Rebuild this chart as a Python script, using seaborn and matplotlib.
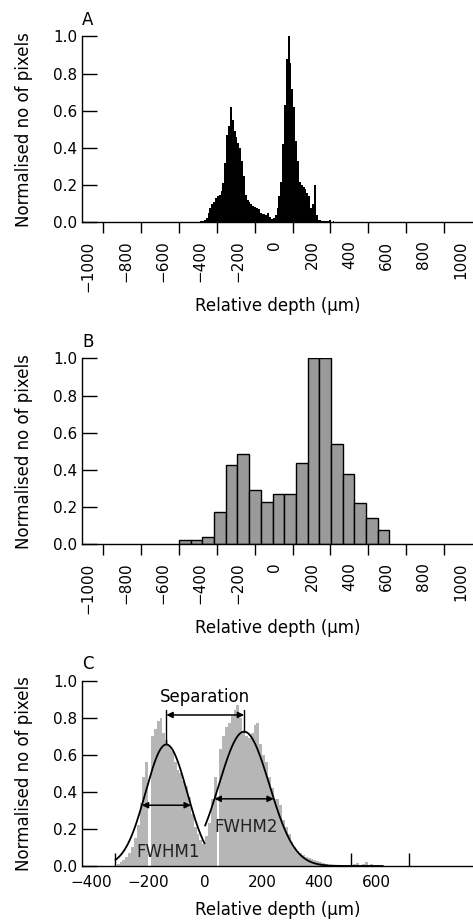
import numpy as np
import pandas as pd
import matplotlib
matplotlib.use("Agg")
import matplotlib.pyplot as plt
import seaborn as sns
from matplotlib.ticker import FixedLocator, FixedFormatter, NullFormatter

# ---------------- data ----------------
# Panel A: fine histogram (10 um bins starting at -410 um)
a_bin_start = -410
a_bin_width = 10
a_values = [0.005, 0.008, 0.010, 0.015, 0.025, 0.05, 0.08, 0.10, 0.11, 0.13,
            0.14, 0.15, 0.17, 0.21, 0.32, 0.47, 0.52, 0.62, 0.55, 0.49,
            0.46, 0.43, 0.40, 0.33, 0.25, 0.15, 0.12, 0.11, 0.10, 0.09,
            0.085, 0.08, 0.07, 0.05, 0.045, 0.044, 0.042, 0.05, 0.03, 0.02,
            0.025, 0.04, 0.08, 0.14, 0.22, 0.42, 0.63, 0.88, 1.0, 0.86,
            0.72, 0.62, 0.44, 0.33, 0.22, 0.20, 0.19, 0.18, 0.16, 0.14,
            0.08, 0.10, 0.20, 0.04, 0.015, 0.012, 0.010, 0.010, 0.008, 0.006,
            0.015, 0.005, 0.01, 0.003]

# Panel B: coarse histogram (18 equal bins from -513 to 615 um)
b_bin_lo = -513
b_bin_hi = 615
b_values = [0.023, 0.023, 0.038, 0.174, 0.427, 0.487, 0.292, 0.229, 0.269,
            0.269, 0.435, 1.0, 1.0, 0.538, 0.376, 0.22, 0.143, 0.079]

# Panel C: fine histogram (10 um bins starting at -310 um) + two Gaussian fits
c_bin_start = -310
c_bin_width = 10
c_values = [0.01, 0.02, 0.03, 0.05, 0.07, 0.10, 0.15, 0.22, 0.34, 0.48,
            0.56, 0.0, 0.70, 0.74, 0.78, 0.80, 0.72, 0.68, 0.65, 0.62,
            0.56, 0.52, 0.50, 0.46, 0.43, 0.37, 0.28, 0.21, 0.17, 0.14,
            0.12, 0.16, 0.23, 0.36, 0.48, 0.0, 0.63, 0.70, 0.75, 0.77,
            0.81, 0.84, 0.87, 0.80, 0.73, 0.70, 0.69, 0.72, 0.76, 0.77,
            0.66, 0.60, 0.56, 0.48, 0.42, 0.36, 0.36, 0.33, 0.25, 0.21,
            0.17, 0.13, 0.10, 0.08, 0.07, 0.06, 0.05, 0.045, 0.04, 0.035,
            0.025, 0.02, 0.015, 0.012, 0.008, 0.006, 0.005, 0.005, 0.004, 0.004,
            0.004, 0.003, 0.003, 0.01, 0.015, 0.005, 0.012, 0.02, 0.005, 0.01,
            0.005]
gauss_names = ["FWHM1", "FWHM2"]
gauss_amp = [0.656, 0.725]
gauss_center = [-136, 137]
gauss_fwhm = [172, 208]
gauss_start = [-315, 0]
gauss_end = [-2, 624]

ab_tick_values = [-1000, -800, -600, -400, -200, 0, 200, 400, 600, 800, 1000]
c_tick_values = [-400, -200, 0, 200, 400, 600]
y_tick_values = [0.0, 0.2, 0.4, 0.6, 0.8, 1.0]

# ---------------- style ----------------
sns.set_theme(style="ticks")
plt.rcParams["font.family"] = ["DejaVu Sans"]
plt.rcParams["axes.linewidth"] = 1.0
FS_TICK = 11
FS_LAB = 12

fig = plt.figure(figsize=(4.73, 9.21), dpi=100)
W, H = 473.0, 921.0
left = 82 / W
width = (W - 82) / W
axA = fig.add_axes([left, (H - 222.5) / H, width, 186 / H])
axB = fig.add_axes([left, (H - 544.3) / H, width, 186 / H])
axC = fig.add_axes([left, (H - 866.0) / H, width, 185.3 / H])


def hist_from_values(ax, lo, hi, vals, color, element, **kw):
    n = len(vals)
    step = (hi - lo) / n
    centers = lo + step * (np.arange(n) + 0.5)
    df = pd.DataFrame({"depth": centers, "w": list(vals)})
    sns.histplot(data=df, x="depth", weights="w", bins=n, binrange=(lo, hi),
                 element=element, fill=True, color=color, alpha=1, ax=ax, **kw)


def style_axes(ax, xlim, xticks, minor, rotated, tick_dir, tick_len):
    ax.set_xlim(*xlim)
    ax.set_ylim(0, 1.0)
    for s in ["top", "right"]:
        ax.spines[s].set_visible(False)
    ax.spines["left"].set_bounds(0, 1.0)
    ax.spines["left"].set_color("black")
    ax.spines["bottom"].set_color("black")
    ax.set_yticks(y_tick_values)
    ax.set_yticklabels([f"{v:.1f}" for v in y_tick_values])
    ax.tick_params(axis="y", direction="in", length=10.8, width=1.0,
                   pad=3.6, labelsize=FS_TICK, colors="black")
    ax.xaxis.set_major_locator(FixedLocator(xticks))
    ax.xaxis.set_major_formatter(FixedFormatter(
        [str(v).replace("-", "\u2212") for v in xticks]))
    ax.xaxis.set_minor_locator(FixedLocator(minor))
    ax.xaxis.set_minor_formatter(NullFormatter())
    ax.tick_params(axis="x", which="major", length=0, labelsize=FS_TICK,
                   labelcolor="black",
                   pad=13.0 if rotated else 6.5,
                   labelrotation=90 if rotated else 0)
    ax.tick_params(axis="x", which="minor", direction=tick_dir,
                   length=tick_len, width=1.0, color="black")
    ax.set_ylabel("Normalised no of pixels", fontsize=FS_LAB, color="black")
    ax.yaxis.set_label_coords(-0.125, 0.5)
    ax.set_xlabel("Relative depth (\u03bcm)", fontsize=FS_LAB, color="black")


# Panel A
hist_from_values(axA, a_bin_start, a_bin_start + a_bin_width * len(a_values),
                 a_values, "black", "step", linewidth=0)
style_axes(axA, (-1033, 1063), ab_tick_values,
           np.arange(-921, 1000, 203.3), True, "out", 8.0)
axA.xaxis.set_label_coords(0.5, -0.40)

# Panel B
hist_from_values(axB, b_bin_lo, b_bin_hi, b_values, "#9a9a9a", "bars",
                 edgecolor="black", linewidth=1.0)
style_axes(axB, (-1033, 1063), ab_tick_values,
           np.arange(-921, 1000, 203.3), True, "out", 8.0)
axB.xaxis.set_label_coords(0.5, -0.40)

# Panel C
hist_from_values(axC, c_bin_start, c_bin_start + c_bin_width * len(c_values),
                 c_values, "#b6b6b6", "step", linewidth=0)
for amp, mu, fw, x0, x1 in zip(gauss_amp, gauss_center, gauss_fwhm,
                               gauss_start, gauss_end):
    sig = fw / 2.3548
    xs = np.linspace(x0, x1, 200)
    sns.lineplot(x=xs, y=amp * np.exp(-(xs - mu) ** 2 / (2 * sig ** 2)),
                 color="black", linewidth=1.3, ax=axC)
style_axes(axC, (-432, 940), c_tick_values,
           np.arange(-316, 800, 206.6), False, "in", 9.6)
axC.xaxis.set_label_coords(0.5, -0.19)

arrow_kw = dict(arrowstyle="<|-|>", color="black", lw=1.1,
                mutation_scale=9, shrinkA=0, shrinkB=0)
# FWHM arrows and labels
fwhm_text_y = [0.077, 0.212]
fwhm_text_x = [-130, 145]
for name, amp, mu, fw, tx, ty in zip(gauss_names, gauss_amp, gauss_center,
                                     gauss_fwhm, fwhm_text_x, fwhm_text_y):
    axC.annotate("", xy=(mu - fw / 2, amp / 2), xytext=(mu + fw / 2, amp / 2),
                 arrowprops=arrow_kw)
    axC.text(tx, ty, name, ha="center", va="center", fontsize=FS_LAB,
             color="#222222")

# Separation
sep_y = 0.815
sep_top = 0.842
for amp, mu in zip(gauss_amp, gauss_center):
    axC.plot([mu, mu], [amp, sep_top], color="black", lw=1.0)
axC.annotate("", xy=(gauss_center[0], sep_y), xytext=(gauss_center[1], sep_y),
             arrowprops=arrow_kw)
axC.text((gauss_center[0] + gauss_center[1]) / 2, 0.912, "Separation",
         ha="center", va="center", fontsize=FS_LAB, color="black")

# Panel letters
for ax, letter in zip([axA, axB, axC], ["A", "B", "C"]):
    ax.annotate(letter, xy=(0, 1), xycoords="axes fraction",
                xytext=(0, 8.4), textcoords="offset points",
                ha="left", va="baseline", fontsize=FS_LAB, color="black")

fig.savefig("out.png", dpi=100, facecolor="white")
